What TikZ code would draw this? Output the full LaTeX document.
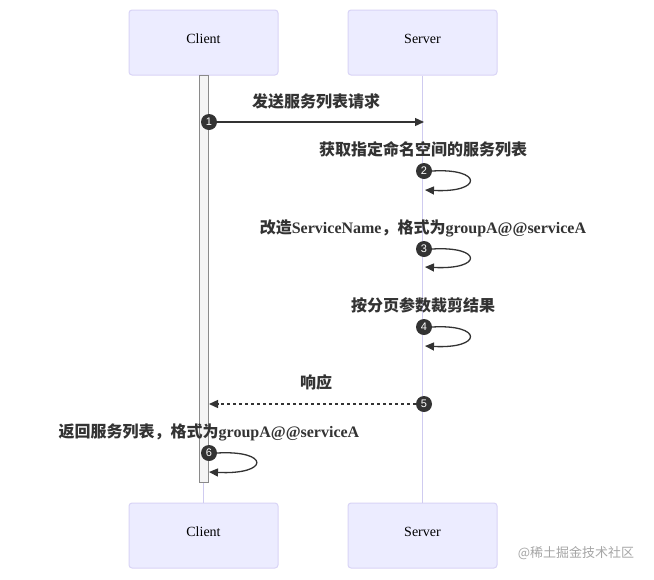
\documentclass[tikz,border=0pt]{standalone}
\usepackage{fontspec}
\setmainfont{Liberation Serif}
\newfontfamily\cjk{Noto Sans CJK SC}
\newfontfamily\numfont{Liberation Sans}
\usetikzlibrary{arrows.meta,positioning}
\definecolor{actorfill}{HTML}{ECECFF}
\definecolor{actorline}{HTML}{D9D4F6}
\definecolor{lifecol}{HTML}{CFCBF0}
\definecolor{arrowcol}{HTML}{333333}
\definecolor{barline}{HTML}{8A8A8A}
\definecolor{barfill}{HTML}{F4F4F4}
\newcommand{\lat}[1]{{\rmfamily\bfseries\fontsize{16}{18}\selectfont #1}}

\begin{document}
\begin{tikzpicture}[x=1pt, y=-1pt,
    actor/.style={draw=actorline, fill=actorfill, line width=1pt, rounded corners=3pt, minimum width=149pt, minimum height=65pt, text depth=8pt, font=\fontsize{14}{16}\selectfont},
    actbar/.style={draw=barline, fill=barfill, line width=1pt, minimum width=9pt, minimum height=407pt, inner sep=0pt},
    msg/.style={text=arrowcol, font=\cjk\bfseries\fontsize{16}{18}\selectfont, inner sep=0pt},
    num/.style={circle, fill=arrowcol, text=white, inner sep=0pt, minimum size=16pt, font=\numfont\fontsize{11}{11}\selectfont},
    arr/.style={draw=arrowcol, line width=1.3pt, -{Triangle[length=9pt,width=8pt]}},
    life/.style={draw=lifecol, line width=1pt}
  ]
    \fill[white] (0,0) rectangle (654,579);
    \useasboundingbox (0,0) rectangle (654,579);

    \node[actor] (clientTop) at (203.5,42.5)  {Client};
    \node[actor] (serverTop) at (422.5,42.5)  {Server};
    \node[actor] (clientBot) at (203.5,535.5) {Client};
    \node[actor] (serverBot) at (422.5,535.5) {Server};

    \draw[life] (serverTop) -- (serverBot);
    \draw[life] (clientTop) -- (clientBot);
    \node[actbar] (act) at (203.5,278.5) {};

    \coordinate (s1) at (424,122);
    \coordinate (r2) at (425,190);
    \coordinate (r3) at (425,267);
    \coordinate (r4) at (425,346);
    \coordinate (c5) at (209,404);
    \coordinate (r6) at (209,472);

    \node[msg] (l1) at (316,101) {发送服务列表请求};
    \node[num] (n1) at (209,122) {1};
    \draw[arr] (n1) -- (s1);

    \node[msg] (l2) at (423,149) {获取指定命名空间的服务列表};
    \node[num] (n2) at (424,171) {2};
    \draw[arr] (n2.east) .. controls (483,168) and (483,193) .. (r2);

    \node[msg] (l3) at (423,228) {改造\lat{ServiceName}，格式为\lat{groupA@@serviceA}};
    \node[num] (n3) at (424,249) {3};
    \draw[arr] (n3.east) .. controls (483,246) and (483,270) .. (r3);

    \node[msg] (l4) at (423,305) {按分页参数裁剪结果};
    \node[num] (n4) at (424,327) {4};
    \draw[arr] (n4.east) .. controls (483,324) and (483,349) .. (r4);

    \node[msg] (l5) at (316,382) {响应};
    \node[num] (n5) at (424,404) {5};
    \draw[arr, dash pattern=on 3pt off 3pt] (n5) -- (c5);

    \node[msg] (l6) at (209,432) {返回服务列表，格式为\lat{groupA@@serviceA}};
    \node[num] (n6) at (209,453) {6};
    \draw[arr] (n6.east) .. controls (270,450) and (270,475) .. (r6);

    \node[text=gray!70, font=\cjk\fontsize{13}{15}\selectfont] (mark) at (576,553) {@稀土掘金技术社区};
  \end{tikzpicture}
\end{document}
